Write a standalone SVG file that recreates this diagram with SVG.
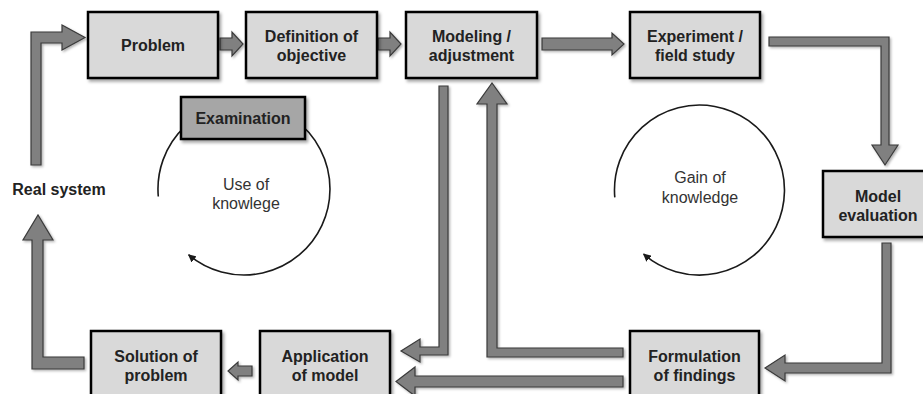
<svg xmlns="http://www.w3.org/2000/svg" width="923" height="394" viewBox="0 0 923 394">
<style>
.box{fill:#d9d9d9;stroke:#000;stroke-width:2.5;filter:url(#sh)}
.exam{fill:#a6a6a6;stroke:#000;stroke-width:2.5;filter:url(#sh)}
.t{font-family:"Liberation Sans",Arial,sans-serif;font-size:16px;font-weight:bold;fill:#222;text-anchor:middle}
.c{font-family:"Liberation Sans",Arial,sans-serif;font-size:16px;fill:#333;text-anchor:middle}
.arr{fill:#808080;stroke:#3a3a3a;stroke-width:1.2;stroke-linejoin:miter;filter:url(#sh2)}
.cyc{fill:none;stroke:#1a1a1a;stroke-width:1.6}
</style>
<defs>
<filter id="sh" x="-10%" y="-10%" width="130%" height="130%">
<feDropShadow dx="2" dy="2.5" stdDeviation="1.5" flood-color="#000" flood-opacity="0.35"/>
</filter>
<filter id="sh2" x="-10%" y="-10%" width="130%" height="130%">
<feDropShadow dx="1.5" dy="1.5" stdDeviation="1" flood-color="#000" flood-opacity="0.3"/>
</filter>
<marker id="ah" markerWidth="10" markerHeight="8" refX="7" refY="4" orient="auto" markerUnits="userSpaceOnUse">
<path d="M0,0 L8,4 L0,8 Z" fill="#1a1a1a"/>
</marker>
</defs>
<rect width="923" height="394" fill="#fff"/>

<g id="connectors">
<polygon class="arr" points="31,165 31,32 62,32 62,25 85,37.5 62,50 62,43 41,43 41,165"/>
<polygon class="arr" points="220,38 232,38 232,32 243,44 232,56 232,50 220,50"/>
<polygon class="arr" points="378,38 390,38 390,32 401,44 390,56 390,50 378,50"/>
<polygon class="arr" points="542,38 612,38 612,33 624,44 612,55 612,50 542,50"/>
<polygon class="arr" points="769,37 889,37 889,145 898,145 885,165 872,145 881,145 881,46 769,46"/>
<polygon class="arr" points="882,243 891,243 891,373 785,373 785,381 765,368 785,355 785,363 882,363"/>
<polygon class="arr" points="623,348 623,357 487,357 487,104 477,104 492,83 507,104 497,104 497,348"/>
<polygon class="arr" points="439,86 448,86 448,355 420,355 420,362 401,351 420,339 420,347 439,347"/>
<polygon class="arr" points="623,376 623,387 415,387 415,396 396,381.5 415,367 415,376"/>
<polygon class="arr" points="252,366 252,376 238,376 238,380 228,371 238,362 238,366"/>
<polygon class="arr" points="84,357 84,369 32,369 32,240 23,240 38,215 53,240 43,240 43,357"/>
</g>

<g id="cycle-use">
<path class="cyc" d="M158.3,196.5 A86,86 0 1 1 188.7,254.9" marker-end="url(#ah)"/>
<text class="c" x="246" y="190">Use of</text>
<text class="c" x="246" y="209">knowlege</text>
</g>
<g id="cycle-gain">
<path class="cyc" d="M614.8,197.4 A85,85 0 1 1 643.7,254.2" marker-end="url(#ah)"/>
<text class="c" x="700" y="183">Gain of</text>
<text class="c" x="700" y="203">knowledge</text>
</g>

<g id="examination">
<rect class="exam" x="181" y="97" width="124" height="42"/>
<text class="t" x="243" y="124">Examination</text>
</g>

<g id="problem">
<rect class="box" x="88" y="12" width="130" height="66"/>
<text class="t" x="153" y="51">Problem</text>
</g>
<g id="definition">
<rect class="box" x="246" y="12" width="131" height="66"/>
<text class="t" x="311.5" y="42">Definition of</text>
<text class="t" x="311.5" y="61">objective</text>
</g>
<g id="modeling">
<rect class="box" x="406" y="12" width="131" height="66"/>
<text class="t" x="471.5" y="42">Modeling /</text>
<text class="t" x="471.5" y="61">adjustment</text>
</g>
<g id="experiment">
<rect class="box" x="630" y="12" width="130" height="66"/>
<text class="t" x="695" y="42">Experiment /</text>
<text class="t" x="695" y="61">field study</text>
</g>
<g id="model-evaluation">
<rect class="box" x="823" y="171" width="130" height="66"/>
<text class="t" x="878" y="202">Model</text>
<text class="t" x="878" y="221">evaluation</text>
</g>
<g id="formulation">
<rect class="box" x="630" y="331" width="129" height="80"/>
<text class="t" x="694.5" y="362">Formulation</text>
<text class="t" x="694.5" y="381">of findings</text>
</g>
<g id="application">
<rect class="box" x="260" y="331" width="130" height="80"/>
<text class="t" x="325" y="362">Application</text>
<text class="t" x="325" y="381">of model</text>
</g>
<g id="solution">
<rect class="box" x="91" y="331" width="130" height="80"/>
<text class="t" x="156" y="362">Solution of</text>
<text class="t" x="156" y="381">problem</text>
</g>
<g id="real-system">
<text class="t" x="59" y="195">Real system</text>
</g>
</svg>
